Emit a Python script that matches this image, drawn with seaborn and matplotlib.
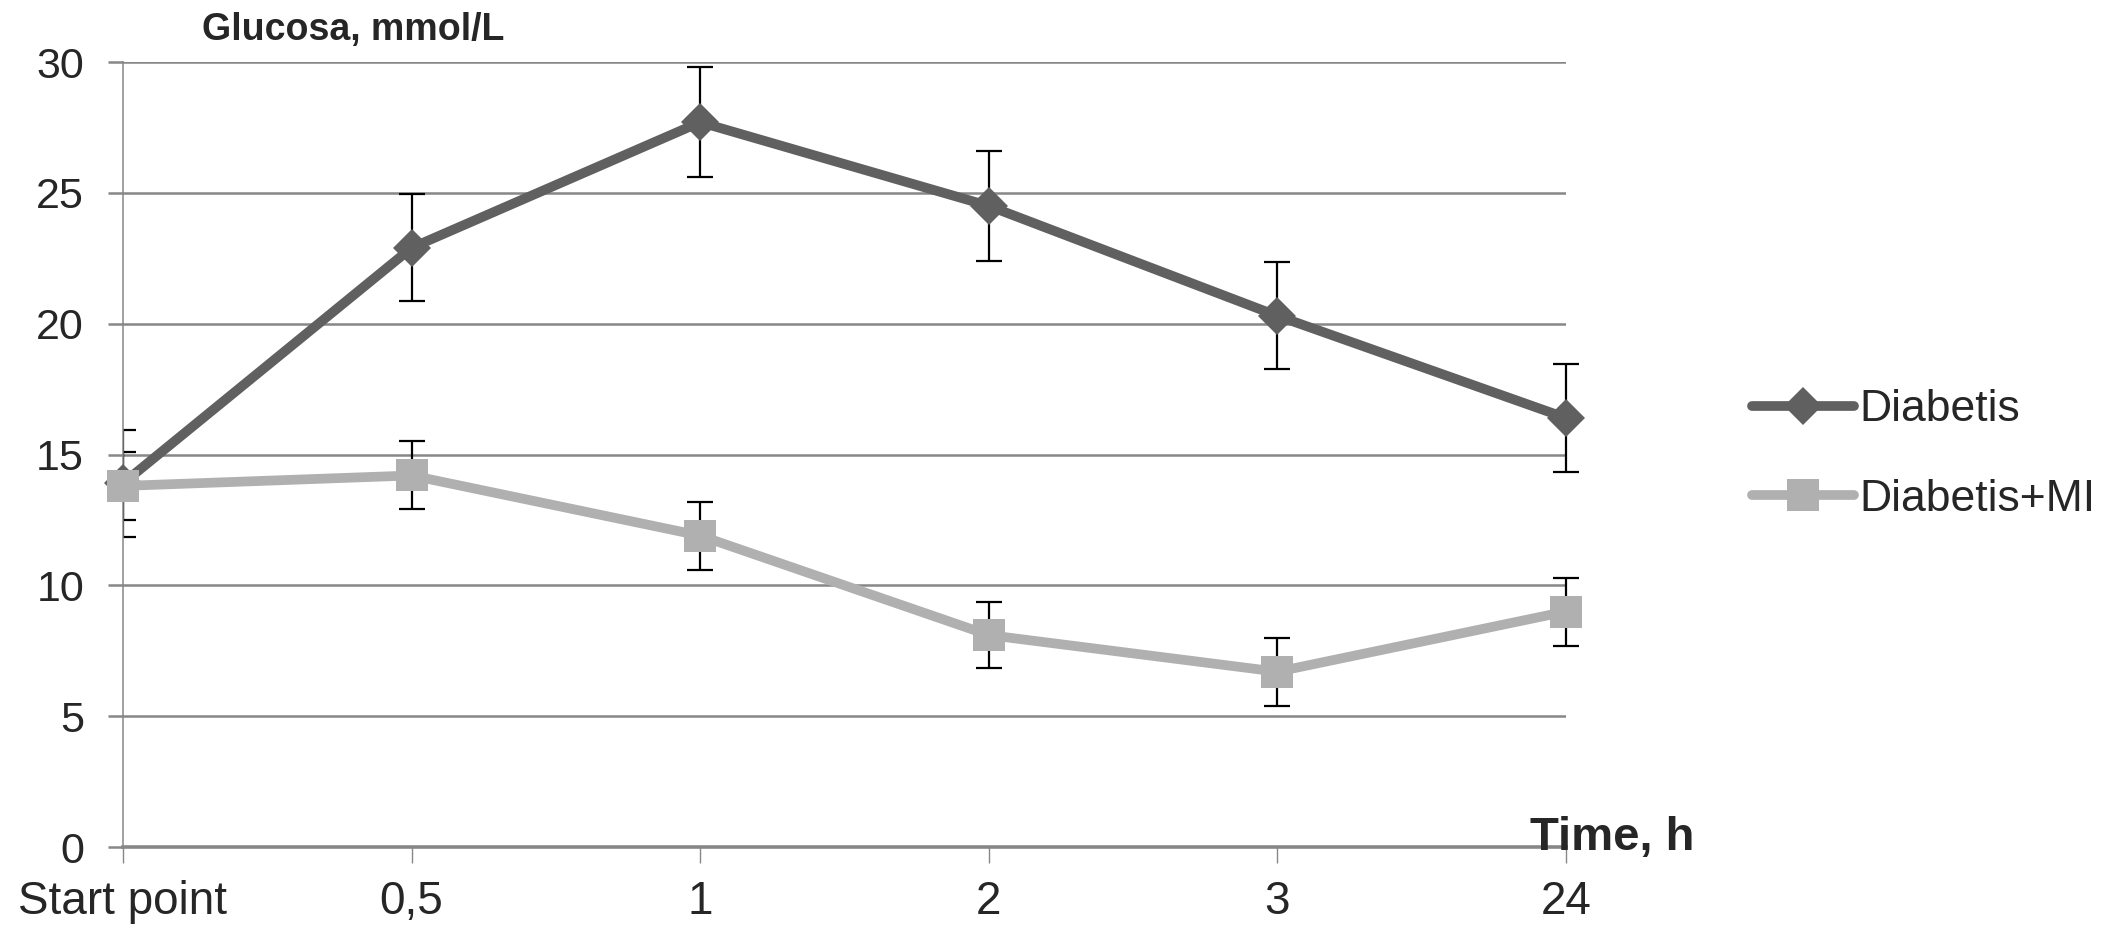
import matplotlib
matplotlib.use("Agg")
import matplotlib.pyplot as plt
import seaborn as sns
import numpy as np
import pandas as pd

# data
time_labels = ["Start point", "0,5", "1", "2", "3", "24"]
diabetis = [13.9, 22.9, 27.7, 24.5, 20.3, 16.4]
diabetis_err = [2.05, 2.05, 2.1, 2.1, 2.05, 2.05]
diabetis_mi = [13.8, 14.2, 11.9, 8.1, 6.7, 9.0]
diabetis_mi_err = [1.3, 1.3, 1.3, 1.25, 1.3, 1.3]

groups = ["Diabetis", "Diabetis+MI"]
colors = {"Diabetis": "#606060", "Diabetis+MI": "#b0b0b0"}
markers = {"Diabetis": "D", "Diabetis+MI": "s"}
msizes = {"Diabetis": 27, "Diabetis+MI": 27}

pos = np.arange(len(time_labels))
df = pd.DataFrame({
    "pos": np.concatenate([pos, pos]),
    "glucose": diabetis + diabetis_mi,
    "err": diabetis_err + diabetis_mi_err,
    "group": [groups[0]] * len(pos) + [groups[1]] * len(pos),
})

sns.set_style("white")
plt.rcParams['font.family'] = ['Liberation Sans', 'DejaVu Sans']

fig = plt.figure(figsize=(21.13, 9.34), dpi=100)
ax = fig.add_axes([0.0582, 0.0931, 0.6829, 0.8405])

grid_col = "#878787"

# error bars (under the lines); first point clipped by the axis like the original
for g in groups:
    sub = df[df.group == g]
    first = sub.pos == 0
    for mask, clip in [(first, True), (~first, False)]:
        eb = ax.errorbar(sub.pos[mask], sub.glucose[mask], yerr=sub.err[mask],
                         fmt="none", ecolor="black", elinewidth=1.6, capsize=9.5,
                         capthick=1.6, zorder=2)
        for art in eb.lines[1] + eb.lines[2]:
            art.set_clip_on(clip)

for g in groups:
    sns.lineplot(data=df[df.group == g], x="pos", y="glucose", color=colors[g],
                 marker=markers[g], markersize=msizes[g], markeredgewidth=0,
                 linewidth=7, label=g, ax=ax, zorder=3, clip_on=False)

ax.set_xlim(0, 5)
ax.set_ylim(0, 30)
ax.set_yticks(np.arange(0, 31, 5))
ax.set_xticks(pos)
ax.set_xticklabels(time_labels, fontsize=33)
ax.tick_params(axis="y", labelsize=31, length=11, width=1.8, color=grid_col,
               direction="out", pad=17, left=True)
ax.tick_params(axis="x", length=11.5, width=1, color=grid_col, direction="out",
               pad=12, bottom=True)
ax.yaxis.grid(True, color=grid_col, linewidth=1.8)
ax.xaxis.grid(False)
for s in ["top", "right"]:
    ax.spines[s].set_visible(False)
ax.spines["left"].set_color(grid_col)
ax.spines["left"].set_linewidth(1.1)
ax.spines["bottom"].set_color(grid_col)
ax.spines["bottom"].set_linewidth(2.6)
ax.set_xlabel("")
ax.set_ylabel("")

# legend
handles, labels = ax.get_legend_handles_labels()
for h, ms in zip(handles, [19, 23.5]):
    h.set_markersize(ms)
    h.set_linewidth(7)
leg = ax.legend(handles, labels, loc="center left", bbox_to_anchor=(1.101, 0.50),
                frameon=False, fontsize=32, handlelength=2.3, handletextpad=0.12,
                labelspacing=1.1)

fig.text(0.0956, 0.968, "Glucosa, mmol/L", fontsize=27, fontweight="bold",
         va="center", ha="left")
fig.text(0.724, 0.103, "Time, h", fontsize=34, fontweight="bold",
         va="center", ha="left")

fig.savefig("out.png", dpi=100)
